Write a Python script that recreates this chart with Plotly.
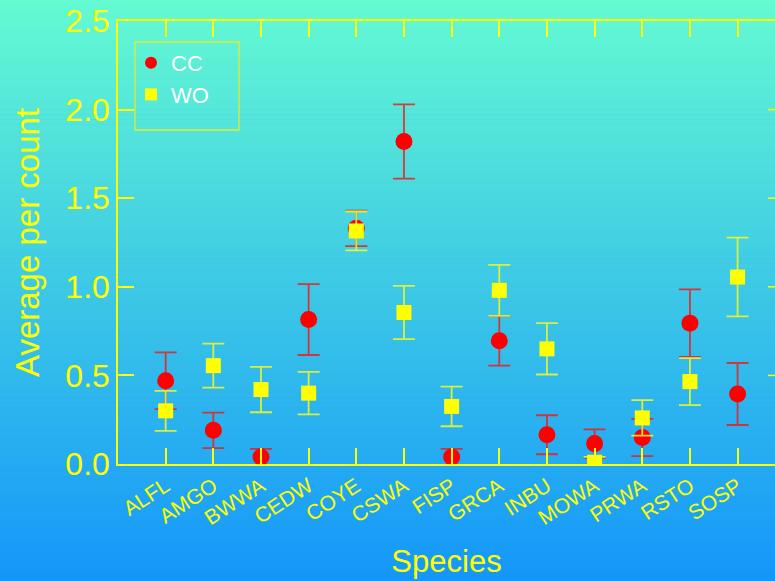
import plotly.graph_objects as go

species = ["ALFL", "AMGO", "BWWA", "CEDW", "COYE", "CSWA", "FISP",
           "GRCA", "INBU", "MOWA", "PRWA", "RSTO", "SOSP"]
cc_mean = [0.47, 0.19, 0.04, 0.815, 1.33, 1.82, 0.04, 0.695, 0.165, 0.115, 0.15, 0.795, 0.395]
cc_err = [0.16, 0.10, 0.045, 0.20, 0.10, 0.21, 0.045, 0.14, 0.11, 0.08, 0.105, 0.19, 0.175]
wo_mean = [0.30, 0.555, 0.42, 0.40, 1.315, 0.855, 0.325, 0.98, 0.65, 0.01, 0.26, 0.465, 1.055]
wo_err = [0.113, 0.124, 0.128, 0.12, 0.11, 0.15, 0.112, 0.144, 0.145, 0.03, 0.10, 0.133, 0.222]

W, H = 775, 581
L, R, T, B = 118, 0, 21, 117
pw, ph = W - L - R, H - T - B
FONT = "Liberation Sans, Arial, sans-serif"
YEL = "#ffff00"

fig = go.Figure()
fig.add_trace(go.Scatter(
    x=species, y=cc_mean, mode="markers", name="CC",
    marker=dict(symbol="circle", size=17, color="#ff0000"),
    error_y=dict(type="data", array=cc_err, visible=True,
                 color="rgba(235,30,30,0.85)", thickness=1.8, width=11)))
fig.add_trace(go.Scatter(
    x=species, y=wo_mean, mode="markers", name="WO",
    marker=dict(symbol="square", size=15, color="#ffff00"),
    error_y=dict(type="data", array=wo_err, visible=True,
                 color="rgba(235,245,40,0.9)", thickness=1.8, width=11)))

# vertical background gradient
top = (100, 250, 210)
bot = (20, 150, 250)
shapes = []
n = 117
for i in range(n):
    p0 = i * H / n
    p1 = (i + 1) * H / n + 0.6
    t = (i + 0.5) / n
    c = tuple(round(top[k] + (bot[k] - top[k]) * t) for k in range(3))
    shapes.append(dict(type="rect", xref="paper", yref="paper", layer="below",
                       x0=-L / pw - 0.01, x1=1.01,
                       y0=(H - B - p1) / ph, y1=(H - B - p0) / ph,
                       line=dict(width=0), fillcolor="rgb(%d,%d,%d)" % c))
# legend frame
shapes.append(dict(type="rect", xref="paper", yref="paper", layer="above",
                   x0=(135 - L) / pw, x1=(239 - L) / pw,
                   y0=(H - B - 130) / ph, y1=(H - B - 42) / ph,
                   line=dict(color="rgb(225,235,50)", width=1.3),
                   fillcolor="rgba(0,0,0,0)"))
# right-hand mirror tick stubs (axis sits just beyond the visible edge)
for v in [0.5, 1.0, 1.5, 2.0]:
    shapes.append(dict(type="line", xref="paper", yref="y", layer="above",
                       x0=(768 - L) / pw, x1=1.0, y0=v, y1=v,
                       line=dict(color=YEL, width=1.5)))

fig.update_layout(
    width=W, height=H,
    margin=dict(l=L, r=R, t=T, b=B, pad=0),
    paper_bgcolor="rgb(20,150,250)",
    plot_bgcolor="rgba(0,0,0,0)",
    shapes=shapes,
    font=dict(family=FONT, color=YEL),
    showlegend=True,
    legend=dict(x=(131 - L) / pw, y=(H - B - 42) / ph, xanchor="left", yanchor="top",
                bgcolor="rgba(0,0,0,0)", borderwidth=0,
                font=dict(family=FONT, size=22, color="white"),
                itemsizing="constant", tracegroupgap=0, itemwidth=30),
    xaxis=dict(
        range=[-1, 12.785], showgrid=False, zeroline=False,
        showline=True, linecolor=YEL, linewidth=1.5, mirror="ticks",
        ticks="inside", ticklen=16, tickwidth=1.5, tickcolor=YEL,
        tickangle=-33, tickfont=dict(family=FONT, size=21, color=YEL),
        title=dict(text="Species", font=dict(family=FONT, size=31, color=YEL), standoff=22)),
    yaxis=dict(
        range=[0, 2.5], showgrid=False, zeroline=False,
        showline=True, linecolor=YEL, linewidth=1.5,
        ticks="inside", ticklen=16, tickwidth=1.5, tickcolor=YEL,
        tickvals=[0, 0.5, 1.0, 1.5, 2.0, 2.5],
        ticktext=["0.0", "0.5", "1.0", "1.5", "2.0", "2.5"],
        tickfont=dict(family=FONT, size=32, color=YEL),
        title=dict(text="Average per count", font=dict(family=FONT, size=33, color=YEL), standoff=16)),
)

fig.write_html("out.html")
